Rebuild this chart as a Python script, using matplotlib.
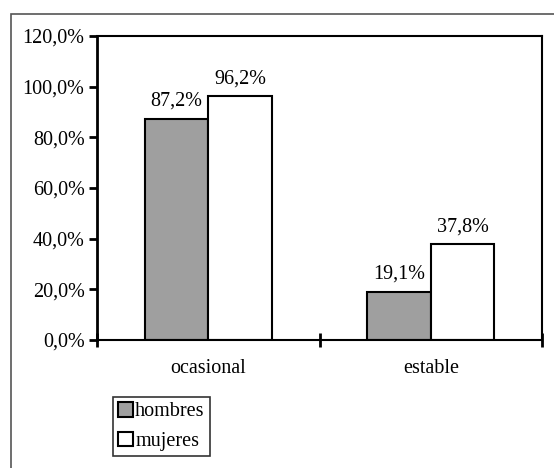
import numpy as np
import matplotlib.pyplot as plt
from matplotlib.patches import Rectangle

plt.rcParams['font.family'] = ['Liberation Serif', 'DejaVu Serif']

categories = ['ocasional', 'estable']
hombres = [87.2, 19.1]
mujeres = [96.2, 37.8]
yticks = [0, 20, 40, 60, 80, 100, 120]
FS = 14.5


def pct(v):
    return f'{v:.1f}%'.replace('.', ',')


fig = plt.figure(figsize=(5.54, 4.68), dpi=100)
ax = fig.add_axes([97 / 554, 1 - 340 / 468, 445 / 554, 304 / 468])

# outer chart frame (only left and top edges are inside the picture)
fig.patches.append(Rectangle((11 / 554, -0.2), 1.2, 1 - 14 / 468 + 0.2,
                             transform=fig.transFigure, fill=False,
                             edgecolor='#555555', linewidth=1.2))

x = np.arange(len(categories))
w = 0.285
b1 = ax.bar(x - w / 2, hombres, w, color='#9f9f9f', edgecolor='black',
            linewidth=1.5, label='hombres')
b2 = ax.bar(x + w / 2, mujeres, w, color='white', edgecolor='black',
            linewidth=1.5, label='mujeres')

for bars, vals in ((b1, hombres), (b2, mujeres)):
    for r, v in zip(bars, vals):
        ax.text(r.get_x() + r.get_width() / 2, v + 3.2, pct(v),
                ha='center', va='bottom', fontsize=FS)

ax.set_xlim(-0.5, 1.5)
ax.set_ylim(0, 120)
ax.set_yticks(yticks)
ax.set_yticklabels([pct(t) for t in yticks], fontsize=FS)
ax.set_xticks([-0.5, 0.5, 1.5])
ax.set_xticklabels([])
ax.set_xticks(x, minor=True)
ax.set_xticklabels(categories, minor=True, fontsize=FS)
ax.tick_params(axis='x', which='minor', length=0, pad=14)
ax.tick_params(axis='x', which='major', direction='inout', length=10, width=2)
ax.tick_params(axis='y', direction='out', length=6, width=2, pad=3)
for s in ax.spines.values():
    s.set_linewidth(1.5)
ax.spines['left'].set_linewidth(2)

leg = fig.legend(loc='upper left', bbox_to_anchor=(113 / 554, 1 - 397 / 468),
                 fontsize=FS, frameon=True, fancybox=False, handlelength=0.75,
                 handleheight=0.75, handletextpad=0.1, borderpad=0.25,
                 labelspacing=0.5, borderaxespad=0)
leg.get_frame().set_edgecolor('black')
leg.get_frame().set_linewidth(1.2)

fig.savefig('out.png', dpi=100)
